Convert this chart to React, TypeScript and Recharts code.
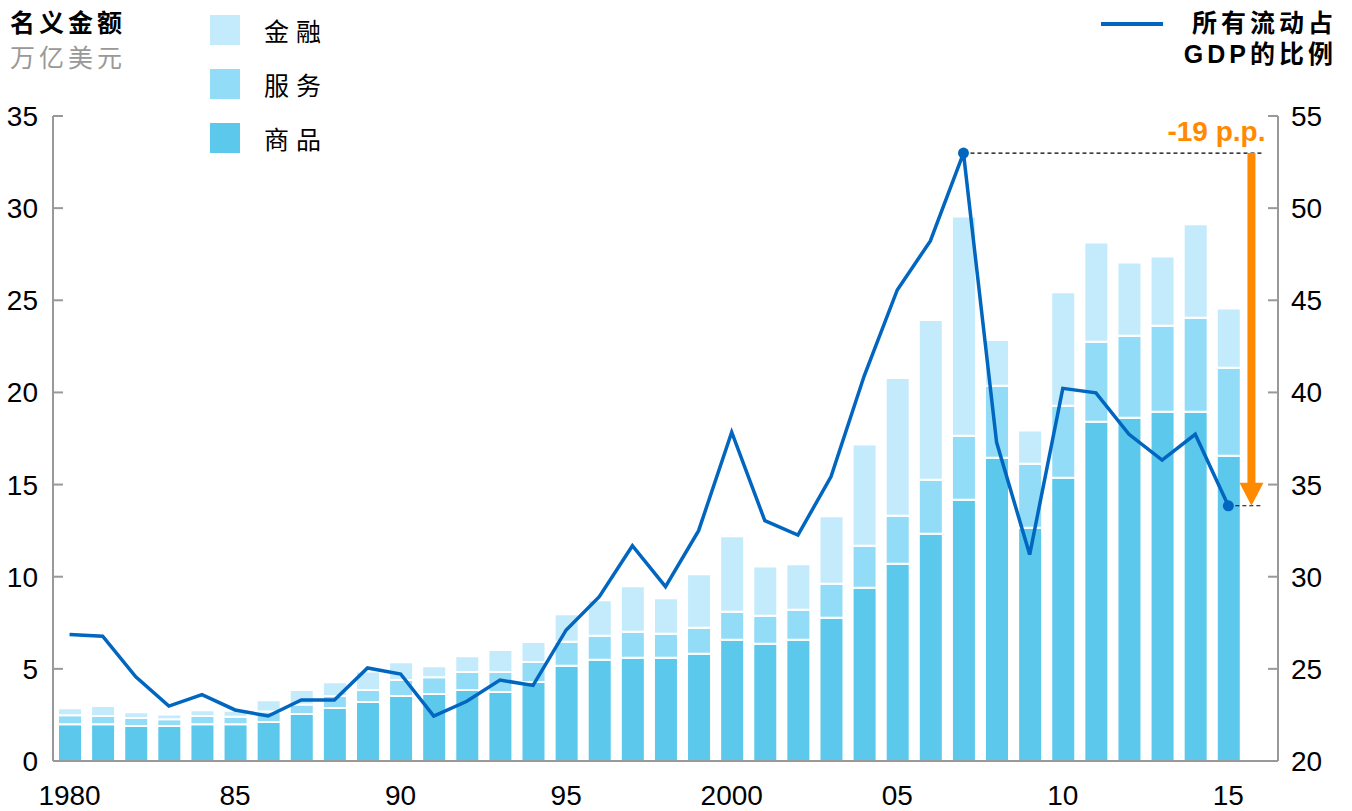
import { ComposedChart, Bar, Line, XAxis, YAxis, ReferenceLine } from "recharts";

// 年份（最后一个为空位，留给箭头）
const years = [
  "1980", "1981", "1982", "1983", "1984", "1985", "1986", "1987", "1988", "1989",
  "1990", "1991", "1992", "1993", "1994", "1995", "1996", "1997", "1998", "1999",
  "2000", "2001", "2002", "2003", "2004", "2005", "2006", "2007", "2008", "2009",
  "2010", "2011", "2012", "2013", "2014", "2015", "2016",
];

// 万亿美元
const goods = [
  2.0, 2.0, 1.9, 1.9, 2.0, 2.0, 2.12, 2.55, 2.88, 3.2,
  3.53, 3.64, 3.85, 3.74, 4.29, 5.17, 5.5, 5.6, 5.6, 5.82,
  6.58, 6.36, 6.58, 7.78, 9.4, 10.7, 12.33, 14.18, 16.46, 12.66,
  15.37, 18.41, 18.63, 18.95, 18.95, 16.57,
];
const services = [
  0.48, 0.44, 0.43, 0.36, 0.44, 0.4, 0.56, 0.52, 0.65, 0.65,
  0.86, 0.9, 0.98, 1.09, 1.08, 1.3, 1.3, 1.42, 1.31, 1.41,
  1.52, 1.52, 1.63, 1.84, 2.28, 2.61, 2.93, 3.47, 3.9, 3.47,
  3.91, 4.34, 4.45, 4.67, 5.1, 4.77,
];
const finance = [
  0.38, 0.54, 0.31, 0.27, 0.31, 0.33, 0.61, 0.78, 0.74, 1.0,
  0.97, 0.6, 0.85, 1.19, 1.09, 1.49, 1.92, 2.46, 1.92, 2.9,
  4.09, 2.68, 2.46, 3.66, 5.5, 7.47, 8.67, 11.9, 2.48, 1.81,
  6.15, 5.39, 3.97, 3.76, 5.07, 3.22,
];
// 所有流动占GDP的比例（%）
const share = [
  26.87, 26.77, 24.57, 22.98, 23.6, 22.77, 22.44, 23.31, 23.31, 25.05,
  24.72, 22.44, 23.24, 24.39, 24.1, 27.11, 28.92, 31.68, 29.46, 32.5,
  37.84, 33.04, 32.26, 35.43, 40.89, 45.56, 48.22, 52.99, 37.29, 31.2,
  40.22, 39.98, 37.73, 36.33, 37.73, 33.85,
];

const tickYears = ["1980", "1985", "1990", "1995", "2000", "2005", "2010", "2015"];
const tickLabels = ["1980", "85", "90", "95", "2000", "05", "10", "15"];
const leftTicks = [0, 5, 10, 15, 20, 25, 30, 35];
const rightTicks = [20, 25, 30, 35, 40, 45, 50, 55];

const peakYear = "2007";
const lastYear = "2015";
const padYear = "2016";

const barLegend = [
  { key: "finance", name: "金融", color: "#C4EBFB" },
  { key: "services", name: "服务", color: "#92DCF7" },
  { key: "goods", name: "商品", color: "#5CC8EC" },
];

const lineColor = "#0066BF";
const orange = "#FF8A00";
const axisColor = "#999999";
const cjk = '"Noto Sans CJK SC", sans-serif';
const latin = '"Liberation Sans", Arial, "Noto Sans CJK SC", sans-serif';

const data = years.map((year, i) => ({
  year,
  goods: goods[i] ?? null,
  services: services[i] ?? null,
  finance: finance[i] ?? null,
  share: share[i] ?? null,
}));

const peak = share[years.indexOf(peakYear)];
const last = share[years.indexOf(lastYear)];
const drop = Math.round(peak - last);

function MarkDot(props: any) {
  const { cx, cy, payload, index } = props;
  if (cy == null || (payload.year !== peakYear && payload.year !== lastYear)) return <g key={index} />;
  return <circle key={index} cx={cx} cy={cy} r={5.5} fill={lineColor} />;
}

function DropArrow(props: any) {
  const x = props.x1 - 10;
  const top = Math.min(props.y1, props.y2);
  const bottom = Math.max(props.y1, props.y2);
  const head = 23;
  return (
    <g>
      <line x1={x} y1={top} x2={x} y2={bottom - head + 1} stroke={orange} strokeWidth={8} />
      <polygon points={`${x - 12},${bottom - head} ${x + 12},${bottom - head} ${x},${bottom}`} fill={orange} />
      <text x={x + 14} y={top - 12} textAnchor="end" fontSize={28} fontWeight="bold" fill={orange} fontFamily={latin}>
        -{drop} p.p.
      </text>
    </g>
  );
}

export default function App() {
  return (
    <div style={{ position: "absolute", left: 0, top: 0, width: 1352, height: 811, background: "#fff" }}>
      <ComposedChart
        width={1352}
        height={811}
        data={data}
        margin={{ top: 116, right: 0, bottom: 0, left: 0 }}
        style={{ fontFamily: latin }}
      >
        <XAxis
          dataKey="year"
          ticks={tickYears}
          interval={0}
          tickFormatter={(v: string) => tickLabels[tickYears.indexOf(v)] ?? ""}
          tick={{ fill: "#000", fontSize: 28 }}
          tickLine={false}
          tickSize={0}
          tickMargin={24}
          height={50}
          axisLine={{ stroke: axisColor, strokeWidth: 2 }}
        />
        <YAxis
          yAxisId="left"
          domain={[0, 35]}
          ticks={leftTicks}
          interval={0}
          width={53}
          tick={{ fill: "#000", fontSize: 28 }}
          tickSize={-10}
          tickMargin={25}
          tickLine={{ stroke: axisColor, strokeWidth: 2 }}
          axisLine={{ stroke: axisColor, strokeWidth: 2 }}
        />
        <YAxis
          yAxisId="right"
          orientation="right"
          domain={[20, 55]}
          ticks={rightTicks}
          interval={0}
          width={74}
          tick={{ fill: "#000", fontSize: 28, textAnchor: "start" }}
          tickSize={-10}
          tickMargin={23}
          tickLine={{ stroke: axisColor, strokeWidth: 2 }}
          axisLine={{ stroke: axisColor, strokeWidth: 2 }}
        />
        <Bar yAxisId="left" dataKey="goods" stackId="a" fill="#5CC8EC" stroke="#fff" strokeWidth={2} barSize={24} isAnimationActive={false} />
        <Bar yAxisId="left" dataKey="services" stackId="a" fill="#92DCF7" stroke="#fff" strokeWidth={2} barSize={24} isAnimationActive={false} />
        <Bar yAxisId="left" dataKey="finance" stackId="a" fill="#C4EBFB" stroke="#fff" strokeWidth={2} barSize={24} isAnimationActive={false} />
        <ReferenceLine
          yAxisId="right"
          segment={[{ x: peakYear, y: peak }, { x: padYear, y: peak }]}
          stroke="#000"
          strokeWidth={1.2}
          strokeDasharray="4 3"
        />
        <ReferenceLine
          yAxisId="right"
          segment={[{ x: lastYear, y: last }, { x: padYear, y: last }]}
          stroke="#000"
          strokeWidth={1.2}
          strokeDasharray="4 3"
        />
        <Line
          yAxisId="right"
          dataKey="share"
          stroke={lineColor}
          strokeWidth={3.5}
          dot={MarkDot}
          activeDot={false}
          connectNulls={false}
          isAnimationActive={false}
        />
        <ReferenceLine
          yAxisId="right"
          segment={[{ x: padYear, y: peak }, { x: padYear, y: last }]}
          shape={DropArrow}
        />
      </ComposedChart>

      {/* 左上标题 */}
      <div style={{ position: "absolute", left: 10, top: 5, fontFamily: cjk, fontSize: 25, fontWeight: "bold", letterSpacing: 4, lineHeight: "32px", color: "#000" }}>
        名义金额
      </div>
      <div style={{ position: "absolute", left: 10, top: 40, fontFamily: cjk, fontSize: 25, letterSpacing: 4, lineHeight: "32px", color: "#999" }}>
        万亿美元
      </div>

      {/* 柱状图例 */}
      {barLegend.map((s, i) => (
        <div key={s.key} style={{ position: "absolute", left: 210, top: 15 + i * 54, display: "flex", alignItems: "center" }}>
          <div style={{ width: 30, height: 30, background: s.color }} />
          <span style={{ marginLeft: 24, fontFamily: cjk, fontSize: 25, letterSpacing: 7, lineHeight: "30px", color: "#000" }}>{s.name}</span>
        </div>
      ))}

      {/* 折线图例 */}
      <div style={{ position: "absolute", left: 1101, top: 22, width: 62, height: 4, background: lineColor }} />
      <div style={{ position: "absolute", right: 19, top: 8, textAlign: "right", fontFamily: latin, fontSize: 25, fontWeight: "bold", lineHeight: "31px", color: "#000" }}>
        <div style={{ letterSpacing: 4, marginRight: -4 }}>所有流动占</div>
        <div style={{ letterSpacing: 4, marginRight: -4 }}>GDP的比例</div>
      </div>
    </div>
  );
}
